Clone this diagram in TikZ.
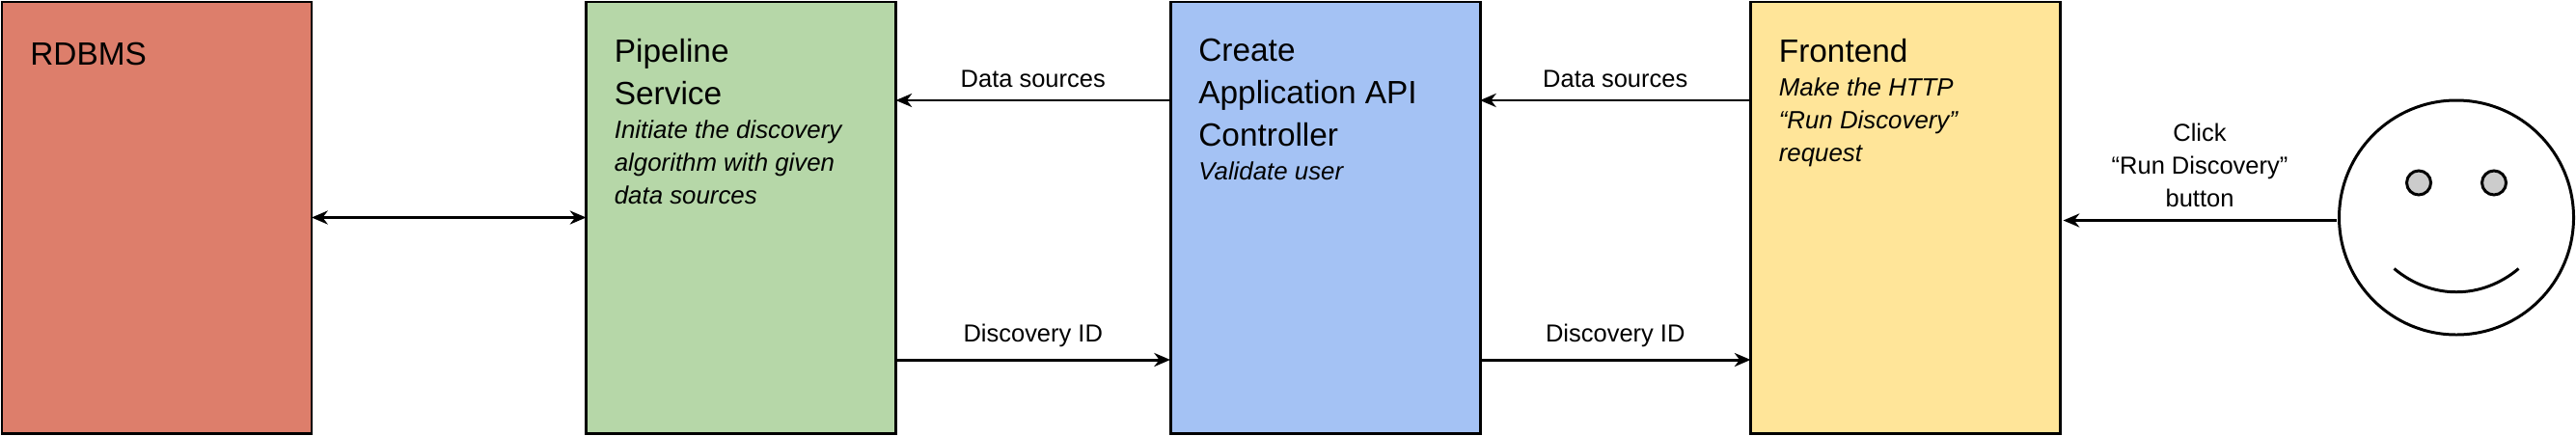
\documentclass[tikz,border=0pt]{standalone}
\usepackage{fontspec}
\setmainfont{Liberation Sans}
\definecolor{boxred}{HTML}{DD7E6B}
\definecolor{boxgreen}{HTML}{B6D7A8}
\definecolor{boxblue}{HTML}{A4C2F4}
\definecolor{boxyellow}{HTML}{FFE599}
\definecolor{eyegray}{HTML}{CCCCCC}
\usetikzlibrary{calc}
\usetikzlibrary{positioning}
\usetikzlibrary{arrows.meta}
\tikzset{
  service/.style={draw=black, line width=1.7pt, minimum width=6.42cm, minimum height=8.94cm, outer sep=0pt},
  headtext/.style={anchor=north west, inner sep=0pt, align=left, font=\fontsize{19}{25}\selectfont},
  desctext/.style={anchor=north west, inner sep=0pt, align=left, font=\fontsize{14.7}{19.3}\selectfont\itshape},
  linktext/.style={inner sep=0pt, align=center, font=\fontsize{14.5}{19.3}\selectfont},
  link/.style={line width=1.7pt, -{Stealth[length=9.5pt,width=8pt,inset=3pt]}},
}
\begin{document}
\begin{tikzpicture}
  \useasboundingbox (0,0) rectangle (53.4,9.02);

  \node [service, fill=boxred] (rdbms) at (3.25, 4.51) {};
  \node [service, fill=boxgreen] (pipeline) at (15.36, 4.51) {};
  \node [service, fill=boxblue] (api) at (27.47, 4.51) {};
  \node [service, fill=boxyellow] (frontend) at (39.5, 4.51) {};

  \node [headtext] (rdbms-head) at ([shift={(0.58,-0.84)}] rdbms.north west) {RDBMS};
  \node [headtext] (pipeline-head) at ([shift={(0.58,-0.76)}] pipeline.north west) {Pipeline\\Service};
  \node [desctext, below=0.3cm of pipeline-head.south west, anchor=north west] (pipeline-desc) {Initiate the discovery\\algorithm with given\\data sources};
  \node [headtext] (api-head) at ([shift={(0.58,-0.76)}] api.north west) {Create\\Application API\\Controller};
  \node [desctext, below=0.3cm of api-head.south west, anchor=north west] (api-desc) {Validate user};
  \node [headtext] (frontend-head) at ([shift={(0.58,-0.76)}] frontend.north west) {Frontend};
  \node [desctext, below=0.3cm of frontend-head.south west, anchor=north west] (frontend-desc) {Make the HTTP\\``Run Discovery''\\request};

  % the user
  \node [circle, draw, line width=1.7pt, minimum size=4.86cm, outer sep=0pt] (face) at (50.92, 4.51) {};
  \node [circle, draw, line width=1.7pt, fill=eyegray, minimum size=0.5cm, outer sep=0pt] (eye1) at ([shift={(-0.78,0.72)}] face.center) {};
  \node [circle, draw, line width=1.7pt, fill=eyegray, minimum size=0.5cm, outer sep=0pt] (eye2) at ([shift={(0.78,0.72)}] face.center) {};
  \coordinate (smile1) at ([shift={(-1.29,-1.06)}] face.center);
  \coordinate (smile2) at ([shift={(1.29,-1.06)}] face.center);
  \draw [line width=1.7pt] (smile1) to [bend right=40] (smile2);

  \draw [link, {Stealth[length=9.5pt,width=8pt,inset=3pt]}-{Stealth[length=9.5pt,width=8pt,inset=3pt]}] ([yshift=0cm] rdbms.east) -- ([yshift=0cm] pipeline.west);
  \draw [link] ([yshift=2.43cm] api.west) -- node [linktext, above=0.24cm] (ds1) {Data sources} ([yshift=2.43cm] pipeline.east);
  \draw [link] ([yshift=2.43cm] frontend.west) -- node [linktext, above=0.24cm] (ds2) {Data sources} ([yshift=2.43cm] api.east);
  \draw [link] ([yshift=-2.95cm] pipeline.east) -- node [linktext, above=0.24cm] (id1) {Discovery ID} ([yshift=-2.95cm] api.west);
  \draw [link] ([yshift=-2.95cm] api.east) -- node [linktext, above=0.24cm] (id2) {Discovery ID} ([yshift=-2.95cm] frontend.west);
  \draw [link, shorten >=0.06cm, shorten <=0.06cm] ([yshift=-0.06cm] face.west) -- node [linktext, above=0.24cm] (click) {Click\\``Run Discovery''\\button} ([yshift=-0.06cm] face.west -| frontend.east);
\end{tikzpicture}
\end{document}
